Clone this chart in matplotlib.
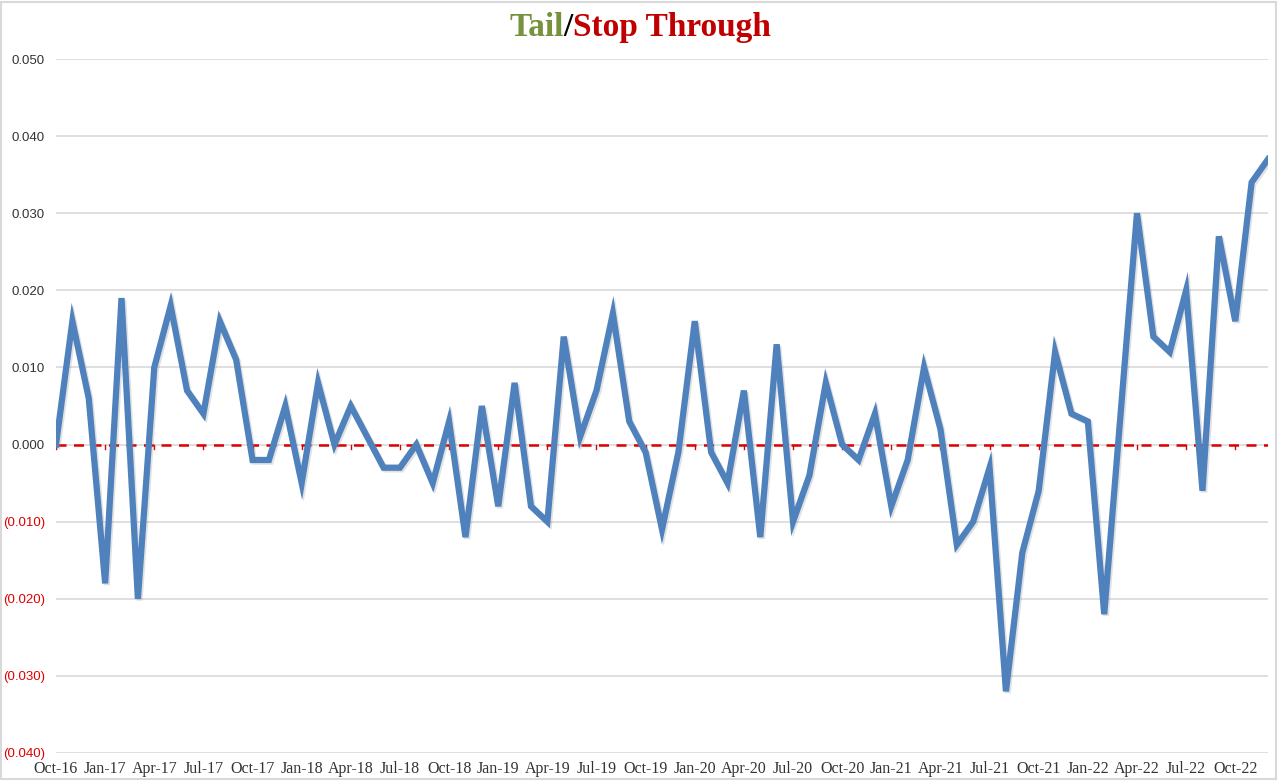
import matplotlib
matplotlib.use("Agg")
import matplotlib.pyplot as plt
import matplotlib.patheffects as pe
from matplotlib.patches import Rectangle
import numpy as np

months = ["Oct-16","Nov-16","Dec-16","Jan-17","Feb-17","Mar-17","Apr-17","May-17","Jun-17","Jul-17","Aug-17","Sep-17",
          "Oct-17","Nov-17","Dec-17","Jan-18","Feb-18","Mar-18","Apr-18","May-18","Jun-18","Jul-18","Aug-18","Sep-18",
          "Oct-18","Nov-18","Dec-18","Jan-19","Feb-19","Mar-19","Apr-19","May-19","Jun-19","Jul-19","Aug-19","Sep-19",
          "Oct-19","Nov-19","Dec-19","Jan-20","Feb-20","Mar-20","Apr-20","May-20","Jun-20","Jul-20","Aug-20","Sep-20",
          "Oct-20","Nov-20","Dec-20","Jan-21","Feb-21","Mar-21","Apr-21","May-21","Jun-21","Jul-21","Aug-21","Sep-21",
          "Oct-21","Nov-21","Dec-21","Jan-22","Feb-22","Mar-22","Apr-22","May-22","Jun-22","Jul-22","Aug-22","Sep-22",
          "Oct-22","Nov-22","Dec-22"]

tail = [0.000, 0.016, 0.006, -0.018, 0.019, -0.020, 0.010, 0.018, 0.007, 0.004, 0.016, 0.011,
        -0.002, -0.002, 0.005, -0.005, 0.008, 0.000, 0.005, 0.001, -0.003, -0.003, 0.000, -0.005,
        0.003, -0.012, 0.005, -0.008, 0.008, -0.008, -0.010, 0.014, 0.001, 0.007, 0.017, 0.003,
        -0.001, -0.011, -0.001, 0.016, -0.001, -0.005, 0.007, -0.012, 0.013, -0.010, -0.004, 0.008,
        0.000, -0.002, 0.004, -0.008, -0.002, 0.010, 0.002, -0.013, -0.010, -0.003, -0.032, -0.014,
        -0.006, 0.012, 0.004, 0.003, -0.022, 0.004, 0.030, 0.014, 0.012, 0.020, -0.006, 0.027,
        0.016, 0.034, 0.037]

yticks = [0.050, 0.040, 0.030, 0.020, 0.010, 0.000, -0.010, -0.020, -0.030, -0.040]

W, H = 1280, 783
fig = plt.figure(figsize=(W/100, H/100), dpi=100)
fig.patch.set_facecolor("white")
# outer frame
fig.add_artist(Rectangle((1/W, 4/H), 1275/W, 777/H, transform=fig.transFigure,
                         fill=False, edgecolor="#D9D9D9", linewidth=1.5))

ax = fig.add_axes([56/W, 1-753/H, (1268-56)/W, (753-59)/H])
x = np.arange(len(months))

ax.set_xlim(0, len(months)-1)
ax.set_ylim(-0.040, 0.050)
ax.set_yticks(yticks)
for v in yticks:
    ax.axhline(v, color="#D9D9D9", linewidth=1.2, zorder=1)

# zero dashed line
ax.axhline(0, color="#E00000", linewidth=1.8, linestyle=(0, (4, 3)), zorder=2)
# small tick marks on zero line
for i in range(0, len(months), 3):
    ax.plot([i, i], [0, -0.0006], color="#E00000", linewidth=1, zorder=2)

ax.plot(x, tail, color="#4F81BD", linewidth=4.5, solid_joinstyle="miter", zorder=3,
        path_effects=[pe.SimpleLineShadow(offset=(1.2, -1.2), shadow_color="#888888", alpha=0.25),
                      pe.Normal()])

for s in ax.spines.values():
    s.set_visible(False)

ax.set_xticks(x[::3])
ax.set_xticklabels(months[::3], fontsize=11.5, family="Liberation Serif", color="#333333")
ax.tick_params(axis="x", length=0, pad=6)
ax.tick_params(axis="y", length=0, pad=8)

ylabels = []
for v in yticks:
    if v < 0:
        ylabels.append("({:.3f})".format(-v))
    elif v == 0:
        ylabels.append("0.000")
    else:
        ylabels.append("{:.3f}".format(v))
ax.set_yticklabels(ylabels, fontsize=9.5, family="Liberation Sans")
for lbl, v in zip(ax.get_yticklabels(), yticks):
    lbl.set_color("#E00000" if v < 0 else "#333333")

# title with coloured parts
fs = 24
fig.canvas.draw()
r = fig.canvas.get_renderer()
parts = [("Tail", "#76923C"), ("/", "#000000"), ("Stop Through", "#C00000")]
texts = [fig.text(0, 0.965, p, color=c, fontsize=fs, family="Liberation Serif",
                  fontweight="bold", ha="left", va="center") for p, c in parts]
ws = [t.get_window_extent(renderer=r).width / W for t in texts]
start = 0.5 - sum(ws)/2
for t, w in zip(texts, ws):
    t.set_x(start)
    start += w

fig.savefig("out.png", dpi=100, facecolor="white")
